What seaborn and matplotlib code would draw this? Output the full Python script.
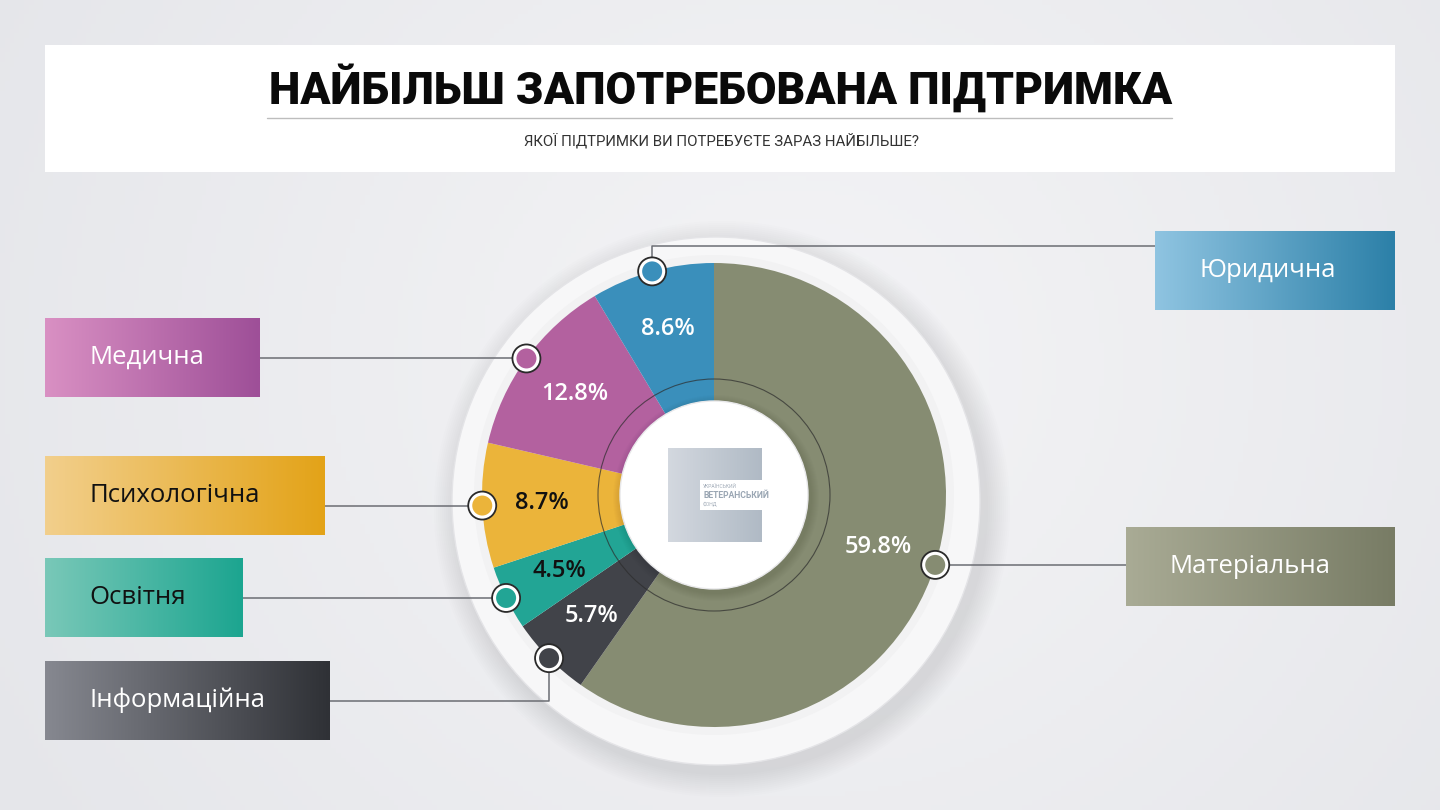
import numpy as np
import matplotlib
matplotlib.use("Agg")
import matplotlib.pyplot as plt
import seaborn as sns
from matplotlib.patches import Rectangle, Circle

# --- data ---
categories = ['Матеріальна', 'Інформаційна', 'Освітня', 'Психологічна', 'Медична', 'Юридична']
shares = [59.8, 5.7, 4.5, 8.7, 12.8, 8.6]
title = 'НАЙБІЛЬШ ЗАПОТРЕБОВАНА ПІДТРИМКА'
subtitle = 'ЯКОЇ ПІДТРИМКИ ВИ ПОТРЕБУЄТЕ ЗАРАЗ НАЙБІЛЬШЕ?'
logo_lines = ['УКРАЇНСЬКИЙ', 'ВЕТЕРАНСЬКИЙ', 'ФОНД']

# --- styles ---
wedge_colors = ['#868c72', '#414349', '#22a595', '#ebb43a', '#b3619f', '#3a8fbb']
box_grads = [('#a9ab95', '#787c65'), ('#868890', '#2f3136'), ('#79c8b8', '#1ca590'),
             ('#f2cf8c', '#e3a318'), ('#d990c3', '#9e4f98'), ('#8fc4e1', '#2c80a8')]
pct_colors = ['white', 'white', '#111111', '#111111', 'white', 'white']
box_text_colors = ['white', 'white', '#111111', '#111111', 'white', 'white']

# --- layout (pixels, top-left origin) ---
W, H = 1440, 810
cx, cy = 714, 495
R_out, R_in = 232, 94
boxes = [(1126, 527, 269, 79), (45, 661, 285, 79), (45, 558, 198, 79),
         (45, 456, 280, 79), (45, 318, 215, 79), (1155, 231, 240, 79)]
elbow_y = [None, 701, None, None, None, 246]


def Y(y):
    return H - y


sns.set_theme(style="white")
plt.rcParams['font.family'] = ['Open Sans', 'DejaVu Sans']

fig = plt.figure(figsize=(14.4, 8.1), dpi=100)
ax = fig.add_axes([0, 0, 1, 1])

# background
gx, gy = np.meshgrid(np.linspace(0, 1, 300), np.linspace(0, 1, 170))
bg = np.sqrt((gx - 0.55) ** 2 + ((gy - 0.45) * 0.6) ** 2)
bg_cmap = sns.blend_palette(['#f4f4f6', '#e5e6ea'], as_cmap=True)
ax.imshow(bg, cmap=bg_cmap, extent=(0, W, 0, H), aspect='auto', zorder=0)

# header
ax.add_patch(Rectangle((45, Y(172)), 1350, 127, fc='white', ec='none', zorder=1))
ax.text(721, Y(88), title, ha='center', va='center', fontsize=32, fontweight='heavy',
        family=['Roboto', 'DejaVu Sans'], color='#0a0a0a', zorder=2)
ax.plot([267, 1172], [Y(118), Y(118)], color='#bdbdbd', lw=1, zorder=2)
ax.text(722, Y(141), subtitle, ha='center', va='center', fontsize=10.8,
        family=['Roboto', 'DejaVu Sans'], color='#333333', zorder=2)

# outer disc with soft shadow
for k in range(12):
    ax.add_patch(Circle((cx + 8, Y(cy) - 14), 266 + k * 2, fc='#8f929a', ec='none',
                        alpha=0.016, zorder=1))
ax.add_patch(Circle((cx + 2, Y(cy + 6)), 264, fc='#f7f7f8', ec='#e4e4e7', lw=1, zorder=2))
ax.add_patch(Circle((cx, Y(cy)), 240, fc='#f2f2f3', ec='none', zorder=2))

# donut
wedges, _ = ax.pie(shares, colors=wedge_colors, startangle=90, counterclock=False,
                   radius=R_out, center=(cx, Y(cy)), frame=True,
                   wedgeprops=dict(width=R_out - R_in, linewidth=0, zorder=3))

# inner hole and thin ring
for k in range(8):
    ax.add_patch(Circle((cx + 2, Y(cy) - 3), R_in + 9 - k, fc='black', ec='none',
                        alpha=0.012, zorder=4))
ax.add_patch(Circle((cx, Y(cy)), R_in, fc='white', ec='#e8e8ea', lw=1, zorder=5))
ax.add_patch(Circle((cx, Y(cy)), 116, fc='none', ec='#2c2c2c', lw=0.8, alpha=0.7, zorder=4))

# logo
logo_cmap = sns.blend_palette(['#d3d8df', '#b0bac5'], as_cmap=True)
ax.imshow(np.linspace(0, 1, 64).reshape(1, -1), cmap=logo_cmap,
          extent=(668, 762, Y(542), Y(448)), aspect='auto', zorder=6)
ax.add_patch(Rectangle((700, Y(510)), 90, 30, fc='white', ec='none', zorder=7))
ax.text(703, Y(486), logo_lines[0], fontsize=3.6, color='#a3adb9', va='center', zorder=8,
        family=['Roboto', 'DejaVu Sans'])
ax.text(703, Y(495), logo_lines[1], fontsize=6.2, fontweight='bold', color='#9aa6b3',
        va='center', zorder=8, family=['Roboto', 'DejaVu Sans'])
ax.text(703, Y(504), logo_lines[2], fontsize=3.6, color='#a3adb9', va='center', zorder=8,
        family=['Roboto', 'DejaVu Sans'])

# percentage labels, markers, connectors, boxes
for i, w in enumerate(wedges):
    mid = np.deg2rad((w.theta1 + w.theta2) / 2)
    tx = cx + 172 * np.cos(mid)
    ty = Y(cy) + 172 * np.sin(mid)
    ax.text(tx, ty, f'{shares[i]}%', ha='center', va='center', fontsize=17,
            fontweight='semibold', color=pct_colors[i], zorder=9)

    mx = cx + R_out * np.cos(mid)
    my = Y(cy) + R_out * np.sin(mid)

    bx, by, bw, bh = boxes[i]
    right_side = bx > cx
    edge_x = bx if right_side else bx + bw
    if elbow_y[i] is None:
        xs, ys = [mx, edge_x], [my, my]
    else:
        xs, ys = [mx, mx, edge_x], [my, Y(elbow_y[i]), Y(elbow_y[i])]
    ax.plot(xs, ys, color='#6b6d73', lw=1.1, zorder=8, solid_capstyle='butt')

    ax.add_patch(Circle((mx, my), 14, fc='white', ec='#2a2a2a', lw=1.3, zorder=10))
    ax.add_patch(Circle((mx, my), 10, fc=wedge_colors[i], ec='none', zorder=11))

    cmap = sns.blend_palette(list(box_grads[i]), as_cmap=True)
    ax.imshow(np.linspace(0, 1, 128).reshape(1, -1), cmap=cmap,
              extent=(bx, bx + bw, Y(by + bh), Y(by)), aspect='auto', zorder=6)
    ax.text(bx + 44, Y(by + bh / 2), categories[i], ha='left', va='center',
            fontsize=18.5, fontweight='normal', color=box_text_colors[i], zorder=7)

ax.set_xlim(0, W)
ax.set_ylim(0, H)
ax.set_aspect('auto')
ax.axis('off')

fig.savefig('out.png', dpi=100)
